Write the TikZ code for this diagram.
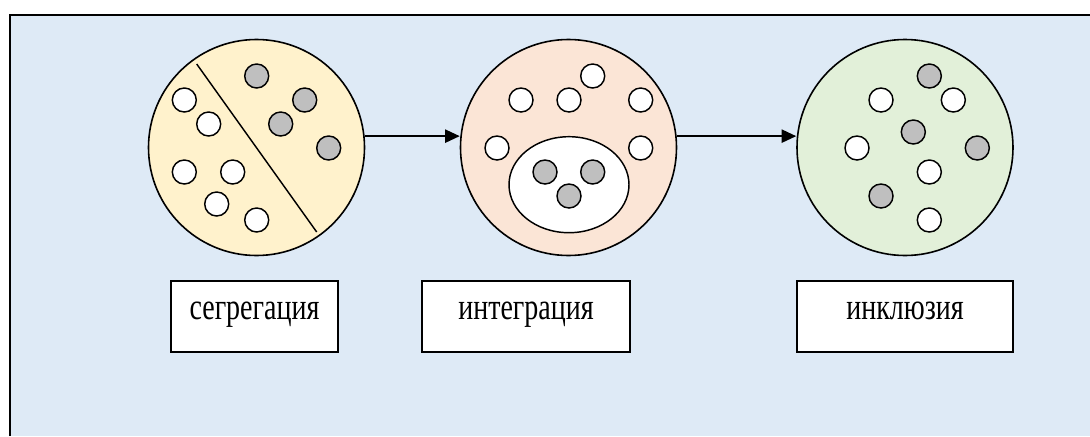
\documentclass[tikz,border=0pt]{standalone}
\usepackage{fontspec}
\setmainfont{Liberation Serif}
\usetikzlibrary{arrows.meta,shapes.geometric}
\definecolor{bgblue}{RGB}{222,234,246}
\definecolor{cyellow}{RGB}{255,242,204}
\definecolor{cpeach}{RGB}{251,229,214}
\definecolor{cgreen}{RGB}{226,240,217}
\definecolor{dotgray}{RGB}{191,191,191}
\newcommand{\tallt}[1]{\scalebox{1}[1.33]{#1}}
\tikzset{
  big/.style={circle,draw=black,line width=1.2pt,minimum size=162pt,inner sep=0pt},
  wdot/.style={circle,draw=black,line width=1.1pt,fill=white,minimum size=18pt,inner sep=0pt},
  gdot/.style={circle,draw=black,line width=1.1pt,fill=dotgray,minimum size=18pt,inner sep=0pt},
  lbl/.style={draw=black,line width=1pt,fill=white,minimum height=53.25pt,inner sep=0pt,
    text height=12pt,text depth=7.5pt,font=\fontsize{21}{25}\selectfont},
  conn/.style={line width=1.2pt,-{Triangle[length=11pt,width=10pt]}}
}
\begin{document}
\begin{tikzpicture}[x=0.75pt,y=-0.75pt]
\useasboundingbox (0,0) rectangle (1090,436);
\fill[bgblue] (10,15) rectangle (1090,436);
\draw[line width=1.5pt] (10,436) -- (10,15) -- (1090,15);

\node[big,fill=cyellow] (c1) at (256.5,147.5) {};
\node[big,fill=cpeach] (c2) at (568.5,147.5) {};
\node[big,fill=cgreen] (c3) at (905,147.5) {};

% circle 1
\draw[line width=1.1pt] (196.7,64) -- (316.7,232);
\foreach \x/\y [count=\i] in {256.7/76,304.7/100,280.7/124,328.7/148}
  \node[gdot] (ga\i) at (\x,\y) {};
\foreach \x/\y [count=\i] in {184.3/100,208.7/124,184.3/172,232.7/172,216.7/204,256.7/220}
  \node[wdot] (wa\i) at (\x,\y) {};

% circle 2
\foreach \x/\y [count=\i] in {592.7/76,521/100,569/100,640.7/100,497/148,640.7/148}
  \node[wdot] (wb\i) at (\x,\y) {};
\node[ellipse,draw=black,line width=1.1pt,fill=white,minimum width=90pt,minimum height=72pt,inner sep=0pt] (el) at (569,184.7) {};
\foreach \x/\y [count=\i] in {545/172,592.7/172,569/196}
  \node[gdot] (gb\i) at (\x,\y) {};

% circle 3
\foreach \x/\y [count=\i] in {929.3/76,913.3/132,977.3/148,881/196}
  \node[gdot] (gc\i) at (\x,\y) {};
\foreach \x/\y [count=\i] in {881/100,953.3/100,857/148,929.3/172,929.3/220}
  \node[wdot] (wc\i) at (\x,\y) {};

\draw[conn] (c1.6.1) -- (c1.6.1 -| c2.west);
\draw[conn] (c2.6.1) -- (c2.6.1 -| c3.west);

\node[lbl,minimum width=125.25pt] (l1) at (254.5,316.5) {\tallt{сегрегация}};
\node[lbl,minimum width=156pt] (l2) at (526,316.5) {\tallt{интеграция}};
\node[lbl,minimum width=162pt] (l3) at (905,316.5) {\tallt{инклюзия}};
\end{tikzpicture}
\end{document}
